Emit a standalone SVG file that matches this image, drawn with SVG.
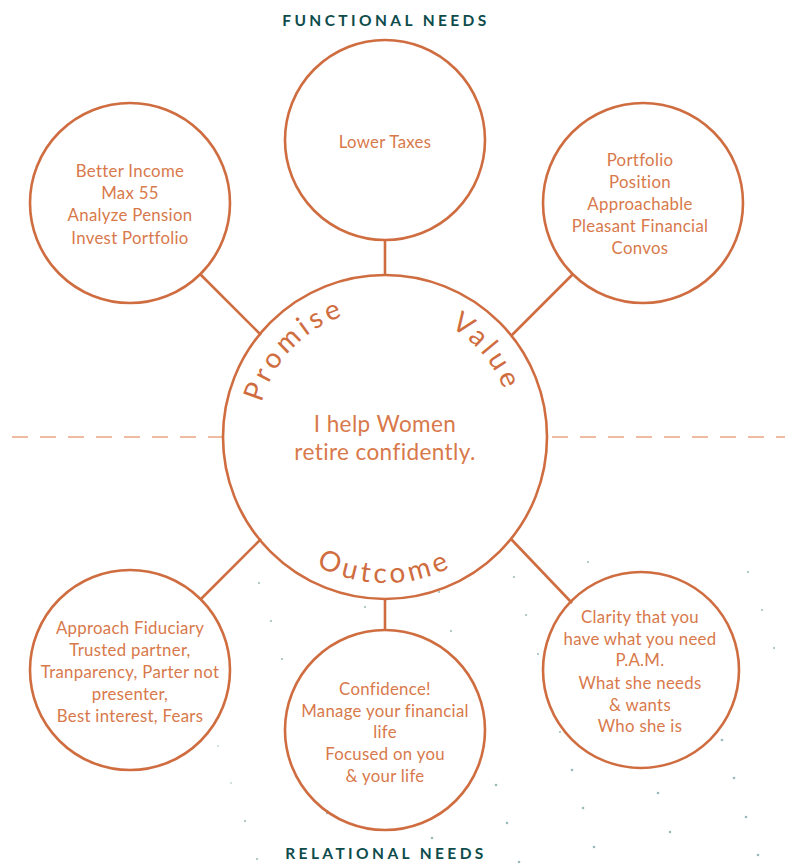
<svg xmlns="http://www.w3.org/2000/svg" width="785" height="863" viewBox="0 0 785 863">
<style>
.node{fill:none;stroke:#cf6d40;stroke-width:2.6}
.conn{stroke:#cf6d40;stroke-width:2.6;fill:none}
.dash{stroke:#eaa582;stroke-width:1.6;stroke-dasharray:16 12;fill:none}
.t{font-family:Lato,"Noto Sans","Liberation Sans",sans-serif;font-size:16.8px;letter-spacing:0.3px;fill:#d8794b;text-anchor:middle}
.c{font-family:Lato,"Noto Sans","Liberation Sans",sans-serif;font-size:22.5px;letter-spacing:0.4px;fill:#d8794b;text-anchor:middle}
.arc{font-family:Lato,"Noto Sans","Liberation Sans",sans-serif;font-size:28px;fill:#cf6d40;letter-spacing:4px}
.h{font-family:Lato,"Noto Sans","Liberation Sans",sans-serif;font-size:15.5px;font-weight:bold;fill:#0e4c4c;letter-spacing:3.4px;text-anchor:middle}
.dot{fill:#9ab9b9}
</style>
<defs>
<path id="topArc" d="M257,437 A128,128 0 0 1 513,437"/>
<path id="botArc" d="M239,437 A146,146 0 0 0 531,437"/>
</defs>
<g id="dots">
<circle class="dot" cx="484" cy="746" r="1.3"/><circle class="dot" cx="496" cy="785" r="1.3"/><circle class="dot" cx="507" cy="823" r="1.3"/><circle class="dot" cx="519" cy="862" r="1.3"/>
<circle class="dot" cx="572" cy="770" r="1.3"/><circle class="dot" cx="583" cy="808" r="1.3"/><circle class="dot" cx="594" cy="847" r="1.3"/>
<circle class="dot" cx="658" cy="793" r="1.3"/><circle class="dot" cx="670" cy="832" r="1.3"/>
<circle class="dot" cx="734" cy="778" r="1.3"/><circle class="dot" cx="746" cy="817" r="1.3"/><circle class="dot" cx="758" cy="855" r="1.3"/><circle class="dot" cx="722" cy="740" r="1.3"/>
<circle class="dot" cx="432" cy="838" r="1.3"/><circle class="dot" cx="327" cy="813" r="1.2"/><circle class="dot" cx="245" cy="821" r="1"/><circle class="dot" cx="257" cy="859" r="1"/>
<circle class="dot" cx="259" cy="583" r="1"/><circle class="dot" cx="271" cy="621" r="1"/><circle class="dot" cx="282" cy="659" r="1"/><circle class="dot" cx="365" cy="607" r="1"/><circle class="dot" cx="439" cy="592" r="1"/><circle class="dot" cx="451" cy="631" r="1"/>
<circle class="dot" cx="514" cy="577" r="1"/><circle class="dot" cx="526" cy="615" r="1"/><circle class="dot" cx="538" cy="654" r="1"/><circle class="dot" cx="560" cy="732" r="1"/><circle class="dot" cx="588" cy="562" r="1"/>
<circle class="dot" cx="748" cy="572" r="1"/><circle class="dot" cx="762" cy="610" r="1"/><circle class="dot" cx="774" cy="648" r="1"/><circle class="dot" cx="218" cy="746" r="0.8"/><circle class="dot" cx="231" cy="783" r="0.8"/>
</g>
<g id="connectors">
<line class="dash" x1="12" y1="437" x2="222" y2="437"/>
<line class="dash" x1="552" y1="437" x2="785" y2="437"/>
<line class="conn" x1="385" y1="240" x2="385" y2="275"/>
<line class="conn" x1="200" y1="274" x2="261" y2="335"/>
<line class="conn" x1="573" y1="274" x2="511" y2="336"/>
<line class="conn" x1="261" y1="539" x2="200" y2="600"/>
<line class="conn" x1="511" y1="539" x2="572" y2="603"/>
<line class="conn" x1="385" y1="599" x2="385" y2="630"/>
</g>
<g id="center">
<circle class="node" cx="385" cy="437" r="162"/>
<text class="c" x="385" y="432">I help Women</text>
<text class="c" x="385" y="460">retire confidently.</text>
<text class="arc" text-anchor="middle"><textPath href="#topArc" startOffset="98">Promise</textPath></text>
<text class="arc" text-anchor="middle"><textPath href="#topArc" startOffset="313">Value</textPath></text>
<text class="arc" text-anchor="middle"><textPath href="#botArc" startOffset="229">Outcome</textPath></text>
</g>
<g id="top">
<circle class="node" cx="385" cy="140" r="100"/>
<text class="t" x="385" y="148">Lower Taxes</text>
</g>
<g id="topleft">
<circle class="node" cx="130" cy="203" r="100"/>
<text class="t" x="130" y="177">Better Income</text>
<text class="t" x="130" y="199">Max 55</text>
<text class="t" x="130" y="221">Analyze Pension</text>
<text class="t" x="130" y="244">Invest Portfolio</text>
</g>
<g id="topright">
<circle class="node" cx="643" cy="203" r="100"/>
<text class="t" x="640" y="166">Portfolio</text>
<text class="t" x="640" y="188">Position</text>
<text class="t" x="640" y="210">Approachable</text>
<text class="t" x="640" y="232">Pleasant Financial</text>
<text class="t" x="640" y="254">Convos</text>
</g>
<g id="bottomleft">
<circle class="node" cx="130" cy="670" r="100"/>
<text class="t" x="130" y="634">Approach Fiduciary</text>
<text class="t" x="130" y="656">Trusted partner,</text>
<text class="t" x="130" y="678">Tranparency, Parter not</text>
<text class="t" x="130" y="700">presenter,</text>
<text class="t" x="130" y="722">Best interest, Fears</text>
</g>
<g id="bottommiddle">
<circle class="node" cx="385" cy="730" r="100"/>
<text class="t" x="385" y="695">Confidence!</text>
<text class="t" x="385" y="717">Manage your financial</text>
<text class="t" x="385" y="738">life</text>
<text class="t" x="385" y="760">Focused on you</text>
<text class="t" x="385" y="782">&amp; your life</text>
</g>
<g id="bottomright">
<circle class="node" cx="641" cy="670" r="98"/>
<text class="t" x="640" y="623">Clarity that you</text>
<text class="t" x="640" y="645">have what you need</text>
<text class="t" x="640" y="666">P.A.M.</text>
<text class="t" x="640" y="689">What she needs</text>
<text class="t" x="640" y="711">&amp; wants</text>
<text class="t" x="640" y="732">Who she is</text>
</g>
<g id="headings">
<text class="h" x="386" y="26">FUNCTIONAL NEEDS</text>
<text class="h" x="386" y="859">RELATIONAL NEEDS</text>
</g>
</svg>
